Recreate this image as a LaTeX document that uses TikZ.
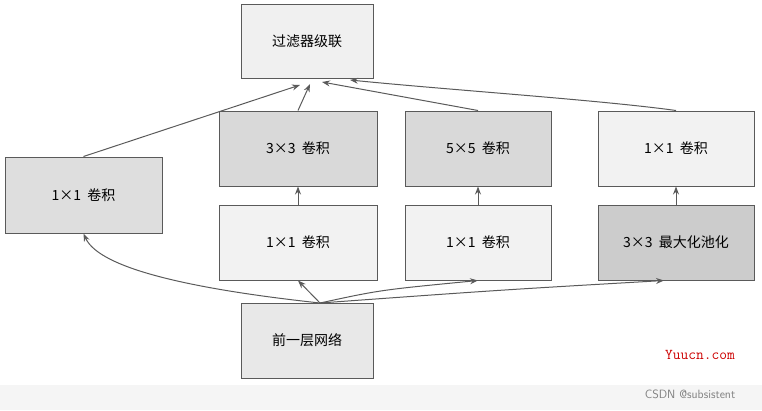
\documentclass[tikz,border=0pt]{standalone}
\usepackage{fontspec}
\newfontfamily\cjk{Noto Sans CJK SC}
\usetikzlibrary{arrows.meta}
\definecolor{bd}{HTML}{5A5A5A}
\begin{document}
\begin{tikzpicture}[x=1pt,y=-1pt,
  box/.style={draw=bd,line width=1pt,minimum width=#1,inner sep=0pt,font=\cjk\fontsize{14}{16}\selectfont},
  box/.default=157pt,
  arr/.style={-{Stealth[length=8pt,width=6pt]},draw=bd,line width=1pt}]
\useasboundingbox (0,0) rectangle (762,410);
\fill[gray!8] (0,385) rectangle (762,410);
\node[box=132pt,minimum height=74pt,fill=black!6] (top) at (307,41) {过滤器级联};
\node[box=157pt,minimum height=76pt,fill=black!13] (l) at (83.5,195) {1×1\ \ 卷积};
\node[box=158pt,minimum height=75pt,fill=black!15] (c3) at (298,148.5) {3×3\ \ 卷积};
\node[box=158pt,minimum height=75pt,fill=black!5] (c1) at (298,242.5) {1×1\ \ 卷积};
\node[box=146pt,minimum height=75pt,fill=black!15] (c5) at (478,148.5) {5×5\ \ 卷积};
\node[box=146pt,minimum height=75pt,fill=black!5] (c1b) at (478,242.5) {1×1\ \ 卷积};
\node[box=156pt,minimum height=75pt,fill=black!5] (r1) at (676,148.5) {1×1\ \ 卷积};
\node[box=156pt,minimum height=75pt,fill=black!20] (p) at (676,242.5) {3×3\ \ 最大化池化};
\node[box=132pt,minimum height=75pt,fill=black!9] (b) at (307,340.5) {前一层网络};
\coordinate (bs) at (320,303);
\draw[arr] (bs) .. controls (200,290) and (100,270) .. (l.south);
\draw[arr] (bs) -- (c1.south);
\draw[arr] (bs) .. controls (380,290) .. (c1b.south);
\draw[arr] (bs) .. controls (500,290) .. (p.south -| 664,0);
\draw[arr] (c1) -- (c3);
\draw[arr] (c1b) -- (c5);
\draw[arr] (p) -- (r1);
\draw[arr] (l.north) -- (300,85);
\draw[arr] (c3.north) -- (310,84);
\draw[arr] (c5.north) -- (322,82);
\draw[arr] (r1.north) .. controls (600,100) and (450,90) .. (350,80);
\node[text=red!80!black,font=\ttfamily\fontsize{15}{17}\selectfont] (w1) at (700,355) {Yuucn.com};
\node[text=gray,font=\sffamily\fontsize{12}{14}\selectfont] (w2) at (690,394) {CSDN @subsistent};
\end{tikzpicture}
\end{document}
